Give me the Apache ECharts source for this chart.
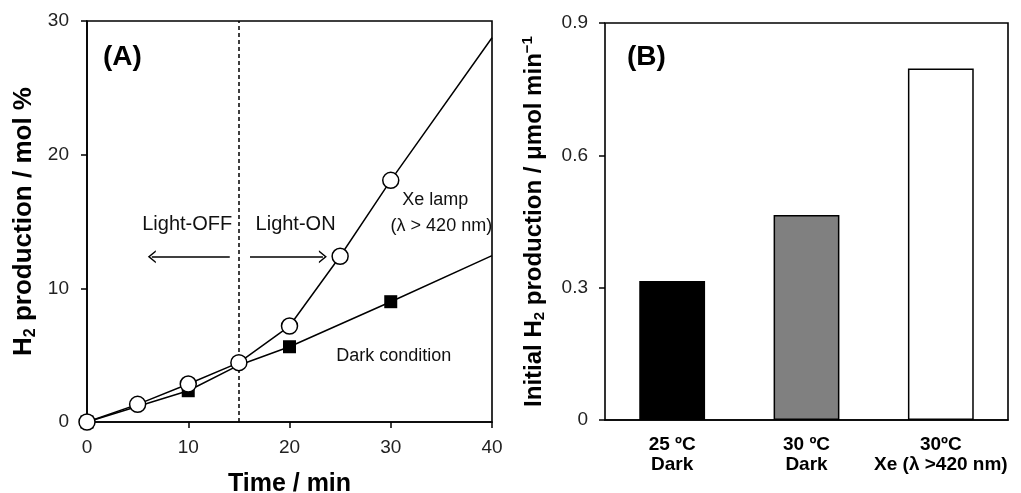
<!DOCTYPE html>
<html><head><meta charset="utf-8">
<script src="https://cdn.jsdelivr.net/npm/echarts@6/dist/echarts.min.js"></script>
<style>html,body{margin:0;padding:0;background:#fff}#c{width:1021px;height:493px}</style>
</head><body><div id="c"></div>
<script>
// Panel A data
const timeXe = [0, 5, 10, 15, 20, 25, 30, 40];
const h2Xe   = [0, 1.32, 2.84, 4.44, 7.18, 12.4, 18.08, 28.75];
const timeDark = [0, 10, 15, 20, 30, 40];
const h2Dark   = [0, 2.34, 4.25, 5.63, 9.0, 12.45];
const noMarkerTimes = [15, 40]; // dark: hidden under circle / line end
const xTicksA = [0, 10, 20, 30, 40];
const yTicksA = [0, 10, 20, 30];
const lightSwitchTime = 15;
// Panel B data
const categoriesB = ['25 ºC\nDark', '30 ºC\nDark', '30ºC\nXe (λ >420 nm)'];
const ratesB = [0.315, 0.465, 0.797];
const yTicksB = [0, 0.3, 0.6, 0.9];

const FONT = 'Liberation Sans, Arial, sans-serif';
const chart = echarts.init(document.getElementById('c'), null, {renderer: 'canvas'});
const chevron = 'path://M0,10 L5,0 L10,10 L8.6,10 L5,2.8 L1.4,10 Z';

const xeData = timeXe.map((t, i) => t === 40 ? {value: [t, h2Xe[i]], symbol: 'none'} : [t, h2Xe[i]]);
const darkData = timeDark.map((t, i) => noMarkerTimes.includes(t) ? {value: [t, h2Dark[i]], symbol: 'none'} : [t, h2Dark[i]]);

function txt(text, x, y, size) {
  return {coord: [x, y], symbol: 'circle', symbolSize: 1, itemStyle: {color: 'rgba(0,0,0,0)'},
    label: {show: true, position: 'inside', formatter: text, fontFamily: FONT, fontSize: size, color: '#111'}};
}

const option = {
  animation: false,
  backgroundColor: '#fff',
  title: [
    {text: '(A)', left: 98, top: 38, textStyle: {fontFamily: FONT, fontSize: 28, fontWeight: 'bold', color: '#000'}},
    {text: '(B)', left: 622, top: 38, textStyle: {fontFamily: FONT, fontSize: 28, fontWeight: 'bold', color: '#000'}}
  ],
  grid: [
    {left: 87, top: 21, width: 405, height: 401, show: true, borderColor: '#000', borderWidth: 1.6, backgroundColor: 'transparent', containLabel: false, outerBoundsMode: 'none'},
    {left: 605, top: 23, width: 403, height: 397, show: true, borderColor: '#000', borderWidth: 1.6, backgroundColor: 'transparent', containLabel: false, outerBoundsMode: 'none'}
  ],
  xAxis: [
    {type: 'value', gridIndex: 0, min: xTicksA[0], max: xTicksA[xTicksA.length - 1], interval: 10,
     name: 'Time / min', nameLocation: 'middle', nameGap: 50,
     nameTextStyle: {fontFamily: FONT, fontSize: 25, fontWeight: 'bold', color: '#000'},
     axisLine: {lineStyle: {color: '#000', width: 1.6}},
     axisTick: {show: true, length: 6, lineStyle: {color: '#000', width: 1.5}},
     axisLabel: {fontFamily: FONT, fontSize: 19, color: '#222', margin: 16},
     splitLine: {show: false}},
    {type: 'category', gridIndex: 1, data: categoriesB,
     axisLine: {lineStyle: {color: '#000', width: 1.6}},
     axisTick: {show: false},
     axisLabel: {fontFamily: FONT, fontSize: 19, fontWeight: 'bold', color: '#000', margin: 15, lineHeight: 20, interval: 0},
     splitLine: {show: false}}
  ],
  yAxis: [
    {type: 'value', gridIndex: 0, min: yTicksA[0], max: yTicksA[yTicksA.length - 1], interval: 10,
     name: '{a|H}{s|2}{a| production / mol %}', nameLocation: 'middle', nameGap: 47,
     nameTextStyle: {rich: {
       a: {fontFamily: FONT, fontSize: 26, fontWeight: 'bold', color: '#000', lineHeight: 32},
       s: {fontFamily: FONT, fontSize: 16, fontWeight: 'bold', color: '#000', lineHeight: 32, padding: [13, 0, 0, 0]}}},
     axisLine: {lineStyle: {color: '#000', width: 1.6}},
     axisTick: {show: true, length: 6, lineStyle: {color: '#000', width: 1.5}},
     axisLabel: {fontFamily: FONT, fontSize: 19, color: '#222', margin: 18},
     splitLine: {show: false}},
    {type: 'value', gridIndex: 1, min: yTicksB[0], max: yTicksB[yTicksB.length - 1], interval: 0.3,
     name: '{a|Initial H}{s|2}{a| production / μmol min}{p|−1}', nameLocation: 'middle', nameGap: 56,
     nameTextStyle: {rich: {
       a: {fontFamily: FONT, fontSize: 24, fontWeight: 'bold', color: '#000', lineHeight: 30},
       s: {fontFamily: FONT, fontSize: 15, fontWeight: 'bold', color: '#000', lineHeight: 30, padding: [12, 0, 0, 0]},
       p: {fontFamily: FONT, fontSize: 15, fontWeight: 'bold', color: '#000', lineHeight: 30, padding: [0, 0, 12, 0]}}},
     axisLine: {lineStyle: {color: '#000', width: 1.6}},
     axisTick: {show: true, length: 6, lineStyle: {color: '#000', width: 1.5}},
     axisLabel: {fontFamily: FONT, fontSize: 19, color: '#222', margin: 17},
     splitLine: {show: false}},
  ],
  series: [
    {type: 'line', xAxisIndex: 0, yAxisIndex: 0, data: [], silent: true, z: 1,
     markLine: {silent: true, z: 1, symbol: ['none', 'none'], label: {show: false},
       lineStyle: {color: '#000', width: 1.5, type: [4, 3]},
       data: [{xAxis: lightSwitchTime}]}},
    {type: 'line', xAxisIndex: 0, yAxisIndex: 0, data: darkData, symbol: 'rect', symbolSize: 13,
     lineStyle: {color: '#000', width: 1.5}, itemStyle: {color: '#000'}, z: 3, silent: true},
    {type: 'line', xAxisIndex: 0, yAxisIndex: 0, data: xeData, symbol: 'circle', symbolSize: 16,
     lineStyle: {color: '#000', width: 1.5}, itemStyle: {color: '#fff', borderColor: '#000', borderWidth: 1.5}, z: 4, silent: true},
    {type: 'line', xAxisIndex: 0, yAxisIndex: 0, data: [], silent: true, z: 2,
     markPoint: {silent: true, z: 2, data: [
       txt('Light-OFF', 9.9, 14.75, 20),
       txt('Light-ON', 20.6, 14.75, 20),
       txt('Xe lamp', 34.4, 16.6, 18),
       txt('(λ > 420 nm)', 35.0, 14.66, 18),
       txt('Dark condition', 30.3, 4.9, 18)
     ]},
     markLine: {silent: true, z: 2, label: {show: false}, symbol: ['none', chevron], symbolSize: [13, 8],
       lineStyle: {color: '#000', width: 1.5, type: 'solid'},
       data: [
         [{coord: [14.1, 12.36]}, {coord: [6.4, 12.36]}],
         [{coord: [16.1, 12.36]}, {coord: [23.3, 12.36]}]
       ]}},
    {type: 'bar', xAxisIndex: 1, yAxisIndex: 1, barWidth: '49%', silent: true,
     data: ratesB.map((v, i) => ({value: v, itemStyle: {color: ['#000', '#808080', '#fff'][i], borderColor: '#000', borderWidth: 1.5}}))}
  ]
};
chart.setOption(option);
</script>
</body></html>
